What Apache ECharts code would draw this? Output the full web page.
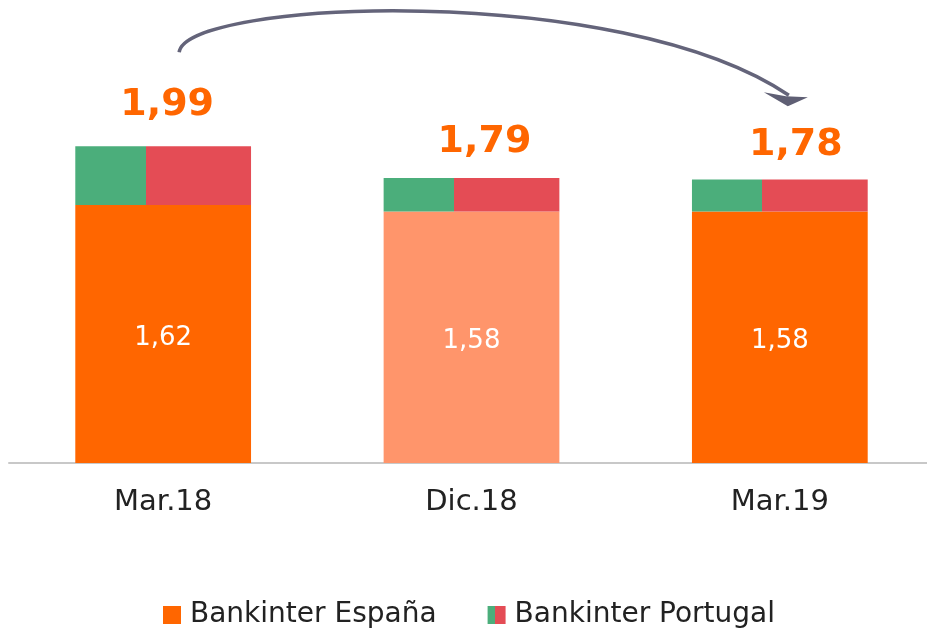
<!DOCTYPE html>
<html>
<head>
<meta charset="utf-8">
<script src="https://cdn.jsdelivr.net/npm/echarts@6/dist/echarts.min.js"></script>
<style>
  html, body { margin: 0; padding: 0; background: #fff; }
  #chart { width: 927px; height: 634px; }
</style>
</head>
<body>
<div id="chart"></div>
<script>
const categories = ['Mar.18', 'Dic.18', 'Mar.19'];
const espana = [1.62, 1.58, 1.58];
const portugal = [0.37, 0.21, 0.20];
const totals = [1.99, 1.79, 1.78];
const espanaColors = ['#FF6600', '#FF956B', '#FF6600'];

// small hand nudges of the total labels, as in the original slide
const totalLabelShift = [[4, 0], [13, 5], [16, 7]];

const font = '"DejaVu Sans", sans-serif';
const fmt = v => v.toFixed(2).replace('.', ',');

// green / red split used for the Portugal part
const ptColor = new echarts.graphic.LinearGradient(0, 0, 1, 0, [
    { offset: 0, color: '#4BAE7B' },
    { offset: 0.4, color: '#4BAE7B' },
    { offset: 0.4, color: '#E44C55' },
    { offset: 1, color: '#E44C55' }
]);

const chart = echarts.init(document.getElementById('chart'));

const option = {
    animation: false,
    grid: { left: 9, width: 925, top: 65, bottom: 171, outerBoundsMode: 'none' },
    xAxis: {
        type: 'category',
        data: categories,
        axisLine: { lineStyle: { color: '#c8c8c8', width: 2 } },
        axisTick: { show: false },
        axisLabel: { color: '#222', fontSize: 29, fontFamily: font, margin: 25 }
    },
    yAxis: {
        type: 'value', min: 0, max: 2.5,
        show: false, splitLine: { show: false }
    },
    legend: {
        bottom: 0,
        left: 158,
        itemWidth: 18, itemHeight: 18, itemGap: 51,
        textStyle: { color: '#222', fontSize: 28, fontFamily: font, padding: [0, 0, 0, 4] },
        data: [
            { name: 'Bankinter España', icon: 'rect', itemStyle: { color: '#FF6600' } },
            { name: 'Bankinter Portugal', icon: 'rect' }
        ]
    },
    series: [
        {
            name: 'Bankinter España',
            type: 'bar',
            stack: 'total',
            barWidth: '57%',
            data: espana.map((v, i) => ({ value: v, itemStyle: { color: espanaColors[i] } })),
            label: {
                show: true, position: 'inside', color: '#fff',
                fontSize: 26, fontFamily: font, offset: [0, 4],
                formatter: p => fmt(p.value)
            }
        },
        {
            name: 'Bankinter Portugal',
            type: 'bar',
            stack: 'total',
            itemStyle: { color: ptColor },
            data: portugal.map((v, i) => ({ value: v, label: { offset: totalLabelShift[i] } })),
            label: {
                show: true, position: 'top', distance: 22,
                color: '#FF6600', fontSize: 38, fontWeight: 'bold', fontFamily: font,
                formatter: p => fmt(totals[p.dataIndex])
            }
        }
    ]
};
chart.setOption(option);

// curved arrow from first to last bar
const p0 = chart.convertToPixel({ seriesIndex: 0 }, [0, 2.58]);
const p1 = chart.convertToPixel({ seriesIndex: 0 }, [2, 2.31]);
const sx = p0[0] + 16, sy = p0[1];
const ex = p1[0] + 9, ey = p1[1];
chart.setOption({
    graphic: [
        {
            type: 'bezierCurve',
            shape: {
                x1: sx, y1: sy,
                cpx1: sx + 6, cpy1: sy - 52,
                cpx2: ex - 170, cpy2: sy - 72,
                x2: ex, y2: ey
            },
            style: { stroke: '#64647a', lineWidth: 3.5, fill: null }
        },
        {
            type: 'polygon',
            shape: {
                points: [[ex - 25, ey - 3], [ex - 3, ey + 1], [ex + 19, ey + 2], [ex - 1, ey + 11]]
            },
            style: { fill: '#5f5f74' }
        }
    ]
});
</script>
</body>
</html>
